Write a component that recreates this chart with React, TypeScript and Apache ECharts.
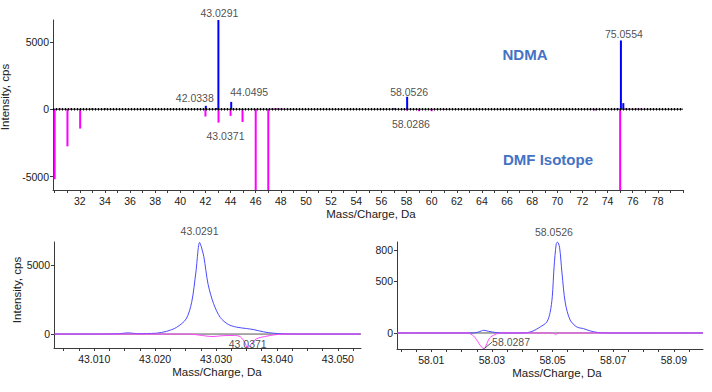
import React, { useEffect, useRef } from "react";
import * as echarts from "echarts";

// ---------- Top panel: stick spectra ----------
const topXMin = 29.87;
const topXMax = 80;
const topXTicks = [30, 31, 32, 33, 34, 35, 36, 37, 38, 39, 40, 41, 42, 43, 44, 45, 46, 47, 48, 49, 50, 51, 52, 53, 54, 55, 56, 57, 58, 59, 60, 61, 62, 63, 64, 65, 66, 67, 68, 69, 70, 71, 72, 73, 74, 75, 76, 77, 78, 79, 80];
const topXLabels = [32, 34, 36, 38, 40, 42, 44, 46, 48, 50, 52, 54, 56, 58, 60, 62, 64, 66, 68, 70, 72, 74, 76, 78];
const topYLabels = [-5000, 0, 5000];

const ndmaMz = [33.0, 34.0, 42.03, 42.9, 43.03, 44.05, 57.0, 58.05, 74.8, 75.06, 75.25];
const ndmaInt = [60, 60, 250, 80, 6700, 540, 60, 920, 60, 5100, 450];

const dmfMz = [30.0, 30.4, 31.02, 31.3, 32.03, 42.0, 43.04, 44.0, 44.95, 46.0, 47.0, 47.3, 47.5, 47.7, 47.9, 48.1, 58.03, 59.0, 60.0, 61.0, 73.0, 75.0, 75.4, 75.7, 76.0, 76.3, 76.6];
const dmfInt = [-5200, 50, -2760, 50, -1440, -545, -1000, -500, -950, -7000, -7000, 60, 60, 60, 50, 40, -100, -150, -150, -40, -100, -7000, 50, 50, 50, 50, 40];

const topLabelMz = [43.03, 42.03, 44.05, 43.04, 58.05, 58.03, 75.06];
const topLabelInt = [6700, 250, 540, -1000, 920, -100, 5100];
const topLabelText = ["43.0291", "42.0338", "44.0495", "43.0371", "58.0526", "58.0286", "75.0554"];

// ---------- Bottom-left panel: profile around 43.03 ----------
const blXMin = 43.0034;
const blXMax = 43.0538;
const blXTicks = [43.005, 43.0075, 43.01, 43.0125, 43.015, 43.0175, 43.02, 43.0225, 43.025, 43.0275, 43.03, 43.0325, 43.035, 43.0375, 43.04, 43.0425, 43.045, 43.0475, 43.05, 43.0525];
const blXLabels = [43.01, 43.02, 43.03, 43.04, 43.05];
const blYLabels = [0, 5000];

const blNdmaMz = [43.0035, 43.0109, 43.0142, 43.0156, 43.017, 43.0186, 43.0202, 43.0219, 43.0235, 43.0251, 43.026, 43.0267, 43.0273, 43.0276, 43.028, 43.0287, 43.0296, 43.0307, 43.032, 43.0334, 43.035, 43.0361, 43.0378, 43.0394, 43.0411, 43.0427, 43.0537];
const blNdmaInt = [0, 0, 30, 90, 30, 40, 60, 200, 480, 1100, 2300, 4500, 6640, 6300, 5600, 3600, 2200, 1200, 700, 500, 400, 330, 160, 60, 20, 0, 0];

const blDmfMz = [43.0035, 43.0255, 43.027, 43.0285, 43.0295, 43.031, 43.033, 43.034, 43.0347, 43.0352, 43.0358, 43.0366, 43.038, 43.0395, 43.041, 43.0537];
const blDmfInt = [0, 0, -60, -150, -180, -120, -100, -200, -600, -1000, -700, -350, -180, -60, 0, 0];

const blLabelMz = [43.0273, 43.0352];
const blLabelInt = [6640, -1000];
const blLabelText = ["43.0291", "43.0371"];

// ---------- Bottom-right panel: profile around 58.05 ----------
const brXMin = 57.9987;
const brXMax = 58.0996;
const brXTicks = [58.0, 58.005, 58.01, 58.015, 58.02, 58.025, 58.03, 58.035, 58.04, 58.045, 58.05, 58.055, 58.06, 58.065, 58.07, 58.075, 58.08, 58.085, 58.09, 58.095];
const brXLabels = [58.01, 58.03, 58.05, 58.07, 58.09];
const brYLabels = [0, 500, 800];

const brNdmaMz = [57.9987, 58.024, 58.0256, 58.0273, 58.0289, 58.0316, 58.0338, 58.0404, 58.0432, 58.0459, 58.0481, 58.0492, 58.0499, 58.0505, 58.0512, 58.0516, 58.0523, 58.0531, 58.0542, 58.0558, 58.058, 58.0602, 58.0624, 58.0646, 58.0668, 58.0996];
const brNdmaInt = [0, 0, 10, 26, 16, 3, 0, 0, 15, 58, 106, 200, 350, 640, 860, 880, 830, 580, 290, 125, 58, 42, 20, 6, 0, 0];

const brDmfMz = [57.9987, 58.022, 58.024, 58.0257, 58.0267, 58.0274, 58.0281, 58.0292, 58.031, 58.033, 58.05, 58.051, 58.052, 58.0996];
const brDmfInt = [0, 0, -30, -100, -140, -152, -120, -50, -15, 0, 0, -13, 0, 0];

const brLabelMz = [58.0516, 58.0274];
const brLabelInt = [880, -152];
const brLabelText = ["58.0526", "58.0287"];

const FONT = "'Liberation Sans', Arial, sans-serif";
const AXIS_COLOR = "#3a3a3a";
const TEXT_COLOR = "#1a1a1a";

function zip2(a: number[], b: number[]) {
  return a.map((v, i) => [v, b[i]]);
}

function stickSeries(mz: number[], inten: number[], color: string, z: number) {
  return {
    type: "custom",
    xAxisIndex: 0,
    yAxisIndex: 0,
    clip: true,
    z,
    data: zip2(mz, inten),
    encode: { x: 0, y: 1 },
    renderItem: (_params: any, api: any) => {
      const x = api.value(0);
      const y = api.value(1);
      const a = api.coord([x, 0]);
      const b = api.coord([x, y]);
      return {
        type: "line",
        shape: { x1: a[0], y1: a[1], x2: b[0], y2: b[1] },
        style: { stroke: color, lineWidth: 2 },
      };
    },
  };
}

function labelSeries(axisIdx: number, mz: number[], inten: number[], text: string[], offsets: number[][], extra: any = {}) {
  return {
    type: "scatter",
    xAxisIndex: axisIdx,
    yAxisIndex: axisIdx,
    symbolSize: 1,
    clip: false,
    itemStyle: { color: "rgba(0,0,0,0)" },
    silent: true,
    z: 10,
    data: mz.map((m, i) => ({
      value: [m, inten[i], text[i]],
      label: {
        show: true,
        position: "inside",
        offset: offsets[i],
        formatter: (p: any) => p.value[2],
        fontSize: 10.5,
        color: TEXT_COLOR,
        fontFamily: FONT,
      },
    })),
    ...extra,
  };
}

function xAxisCfg(grid: number, min: number, max: number, ticks: number[], labels: number[], digits: number, namePad: number) {
  return {
    type: "value",
    gridIndex: grid,
    min,
    max,
    axisLine: { show: true, onZero: false, lineStyle: { color: AXIS_COLOR, width: 1 } },
    axisTick: { show: true, customValues: ticks, length: 3, lineStyle: { color: AXIS_COLOR } },
    axisLabel: {
      customValues: labels,
      formatter: (v: number) => v.toFixed(digits),
      fontSize: 10.5,
      color: TEXT_COLOR,
      fontFamily: FONT,
      margin: 5,
    },
    splitLine: { show: false },
    name: "Mass/Charge, Da",
    nameLocation: "middle",
    nameGap: 18,
    nameTextStyle: { fontSize: 11.5, color: TEXT_COLOR, fontFamily: FONT, padding: [0, 0, 0, namePad] },
  };
}

function yAxisCfg(grid: number, min: number, max: number, labels: number[], name: string, namePad: number) {
  return {
    type: "value",
    gridIndex: grid,
    min,
    max,
    axisLine: { show: true, onZero: false, lineStyle: { color: AXIS_COLOR, width: 1 } },
    axisTick: { show: true, customValues: labels, length: 3, lineStyle: { color: AXIS_COLOR } },
    axisLabel: {
      customValues: labels,
      formatter: (v: number) => String(v),
      fontSize: 10.5,
      color: TEXT_COLOR,
      fontFamily: FONT,
      margin: 4,
    },
    splitLine: { show: false },
    name,
    nameLocation: "middle",
    nameGap: 30,
    nameTextStyle: { fontSize: 11.5, color: TEXT_COLOR, fontFamily: FONT, padding: [0, 0, 0, namePad] },
  };
}

function baseline(axisIdx: number, min: number, max: number, color: string, width: number, type: any, z: number) {
  return {
    type: "line",
    xAxisIndex: axisIdx,
    yAxisIndex: axisIdx,
    data: [
      [min, 0],
      [max, 0],
    ],
    symbol: "none",
    silent: true,
    z,
    lineStyle: { color, width, type },
  };
}

function profile(axisIdx: number, mz: number[], inten: number[], color: string, z: number) {
  return {
    type: "line",
    xAxisIndex: axisIdx,
    yAxisIndex: axisIdx,
    data: zip2(mz, inten),
    symbol: "none",
    smooth: 0.3,
    z,
    lineStyle: { color, width: 1 },
  };
}

export default function App() {
  const ref = useRef<HTMLDivElement>(null);

  useEffect(() => {
    if (!ref.current) return;
    const chart = echarts.init(ref.current, undefined, { renderer: "svg" });
    const option: any = {
      animation: false,
      backgroundColor: "#ffffff",
      textStyle: { fontFamily: FONT },
      grid: [
        { left: 53, top: 20, width: 630, height: 170, outerBoundsMode: "none", containLabel: false },
        { left: 54, top: 242, width: 307, height: 106, outerBoundsMode: "none", containLabel: false },
        { left: 397, top: 242, width: 306, height: 107, outerBoundsMode: "none", containLabel: false },
      ],
      xAxis: [
        xAxisCfg(0, topXMin, topXMax, topXTicks, topXLabels, 0, 6),
        xAxisCfg(1, blXMin, blXMax, blXTicks, blXLabels, 3, 19),
        xAxisCfg(2, brXMin, brXMax, brXTicks, brXLabels, 2, 14),
      ],
      yAxis: [
        yAxisCfg(0, -6000, 6620, topYLabels, "Intensity, cps", 16),
        yAxisCfg(1, -1010, 6670, blYLabels, "Intensity, cps", 10),
        { ...yAxisCfg(2, -155, 880, brYLabels, "", 0), name: "" },
      ],
      graphic: [
        {
          type: "text",
          x: 525,
          y: 54,
          style: { text: "NDMA", fill: "#4472C4", font: `bold 15px ${FONT}`, align: "center", verticalAlign: "middle" },
        },
        {
          type: "text",
          x: 548,
          y: 159,
          style: { text: "DMF Isotope", fill: "#4472C4", font: `bold 15px ${FONT}`, align: "center", verticalAlign: "middle" },
        },
      ],
      series: [
        stickSeries(dmfMz, dmfInt, "#ff00ff", 2),
        stickSeries(ndmaMz, ndmaInt, "#0000ff", 3),
        baseline(0, topXMin, topXMax, "#000", 1, "solid", 4),
        baseline(0, topXMin, topXMax, "#000", 2.5, [1, 2], 4),
        labelSeries(0, topLabelMz, topLabelInt, topLabelText, [
          [1, -6],
          [-11, -8],
          [18, -10],
          [7, 13.5],
          [2, -5],
          [4, 13],
          [3, -6],
        ]),
        baseline(1, blXMin, blXMax, "#555", 1, "solid", 2),
        profile(1, blNdmaMz, blNdmaInt, "#4a4aff", 3),
        profile(1, blDmfMz, blDmfInt, "#ff44ff", 4),
        labelSeries(1, blLabelMz, blLabelInt, blLabelText, [
          [0, -11],
          [0, -4],
        ]),
        baseline(2, brXMin, brXMax, "#555", 1, "solid", 2),
        profile(2, brNdmaMz, brNdmaInt, "#4a4aff", 3),
        profile(2, brDmfMz, brDmfInt, "#ff44ff", 4),
        labelSeries(2, brLabelMz.slice(0, 1), brLabelInt.slice(0, 1), brLabelText.slice(0, 1), [[-3.5, -10.5]]),
        labelSeries(2, brLabelMz.slice(1), brLabelInt.slice(1), brLabelText.slice(1), [[0, 0]], {
          labelLayout: { dx: 27, dy: -6.5 },
          labelLine: { show: true, length2: 0, lineStyle: { color: "#333", width: 0.8 } },
        }),
      ],
    };
    chart.setOption(option);
    return () => chart.dispose();
  }, []);

  return (
    <div
      ref={ref}
      style={{ position: "fixed", left: 0, top: 0, width: 712, height: 392, background: "#fff" }}
    />
  );
}
